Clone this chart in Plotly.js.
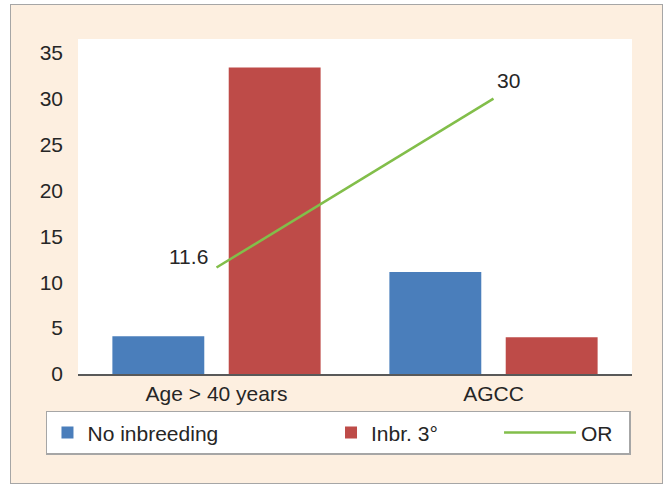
<!DOCTYPE html>
<html>
<head>
<meta charset="utf-8">
<script src="https://cdn.plot.ly/plotly-3.0.1.min.js"></script>
<style>
  html, body { margin: 0; padding: 0; background: #ffffff; }
  #wrap { position: relative; width: 667px; height: 485px; }
  #frame { position: absolute; left: 10px; top: 4px; width: 651px; height: 478px;
           background: #FDEFE0; border: 1.5px solid #A6A6A6; }
  #chart { position: absolute; left: 0; top: 0; width: 667px; height: 485px; }
</style>
</head>
<body>
<div id="wrap"><div id="frame"></div><div id="chart"></div></div>
<script>
const categories = ['Age > 40 years', 'AGCC'];
const noInbreeding = [4.1, 11.1];
const inbr3 = [33.4, 4.0];
const orValues = [11.6, 30];
const orLabels = ['11.6', '30'];
const seriesNames = ['No inbreeding', 'Inbr. 3°', 'OR'];
const yTicks = [0, 5, 10, 15, 20, 25, 30, 35];

const FONT = 'Liberation Sans, Arial, sans-serif';
const FS = 21;
const TXT = '#262626';
const BLUE = '#4A7EBB', RED = '#BE4B48', GREEN = '#82BE4A';

const traces = [
  { type: 'bar', name: seriesNames[0], x: categories, y: noInbreeding,
    marker: { color: BLUE }, legend: 'legend', hoverinfo: 'y' },
  { type: 'bar', name: seriesNames[1], x: categories, y: inbr3,
    marker: { color: RED }, legend: 'legend2', hoverinfo: 'y' },
  { type: 'scatter', mode: 'lines', name: seriesNames[2], x: categories, y: orValues,
    line: { color: GREEN, width: 2.5 }, legend: 'legend3', hoverinfo: 'y' }
];

const labelOpts = [
  { xanchor: 'right', yanchor: 'middle', xshift: -7, yshift: 11 },
  { xanchor: 'left', yanchor: 'middle', xshift: 1, yshift: 18 }
];
const annotations = orLabels.map((t, i) => Object.assign({
  x: categories[i], y: orValues[i], xref: 'x', yref: 'y', text: t, showarrow: false,
  font: { family: FONT, size: FS, color: TXT }
}, labelOpts[i]));

const legendBase = {
  orientation: 'h', xanchor: 'left', yanchor: 'middle', y: -0.176,
  font: { family: FONT, size: FS, color: TXT }
};

const layout = {
  width: 667, height: 485,
  margin: { l: 78, r: 35, t: 39, b: 111 },
  paper_bgcolor: 'rgba(0,0,0,0)',
  plot_bgcolor: '#ffffff',
  barmode: 'group', bargap: 0.16, bargroupgap: 0.21,
  font: { family: FONT, size: FS, color: TXT },
  xaxis: {
    type: 'category', showline: true, linecolor: '#595959', linewidth: 1.5,
    showgrid: false, zeroline: false, ticks: '', ticklabelstandoff: 0,
    tickfont: { family: FONT, size: FS, color: TXT }
  },
  yaxis: {
    range: [0, 36.5], tickvals: yTicks, showline: false, showgrid: false, zeroline: false,
    ticks: '', ticklabelstandoff: 14, fixedrange: true,
    tickfont: { family: FONT, size: FS, color: TXT }
  },
  annotations: annotations,
  legend: Object.assign({}, legendBase, {
    x: -0.0578, bgcolor: '#ffffff', bordercolor: '#A6A6A6', borderwidth: 1.5,
    entrywidthmode: 'pixels', entrywidth: 537
  }),
  legend2: Object.assign({}, legendBase, {
    x: 0.4567, bgcolor: 'rgba(0,0,0,0)', borderwidth: 0
  }),
  legend3: Object.assign({}, legendBase, {
    x: 0.76, bgcolor: 'rgba(0,0,0,0)', borderwidth: 0, itemwidth: 72
  }),
  showlegend: true
};

Plotly.newPlot('chart', traces, layout, { displayModeBar: false, staticPlot: true });
</script>
</body>
</html>
